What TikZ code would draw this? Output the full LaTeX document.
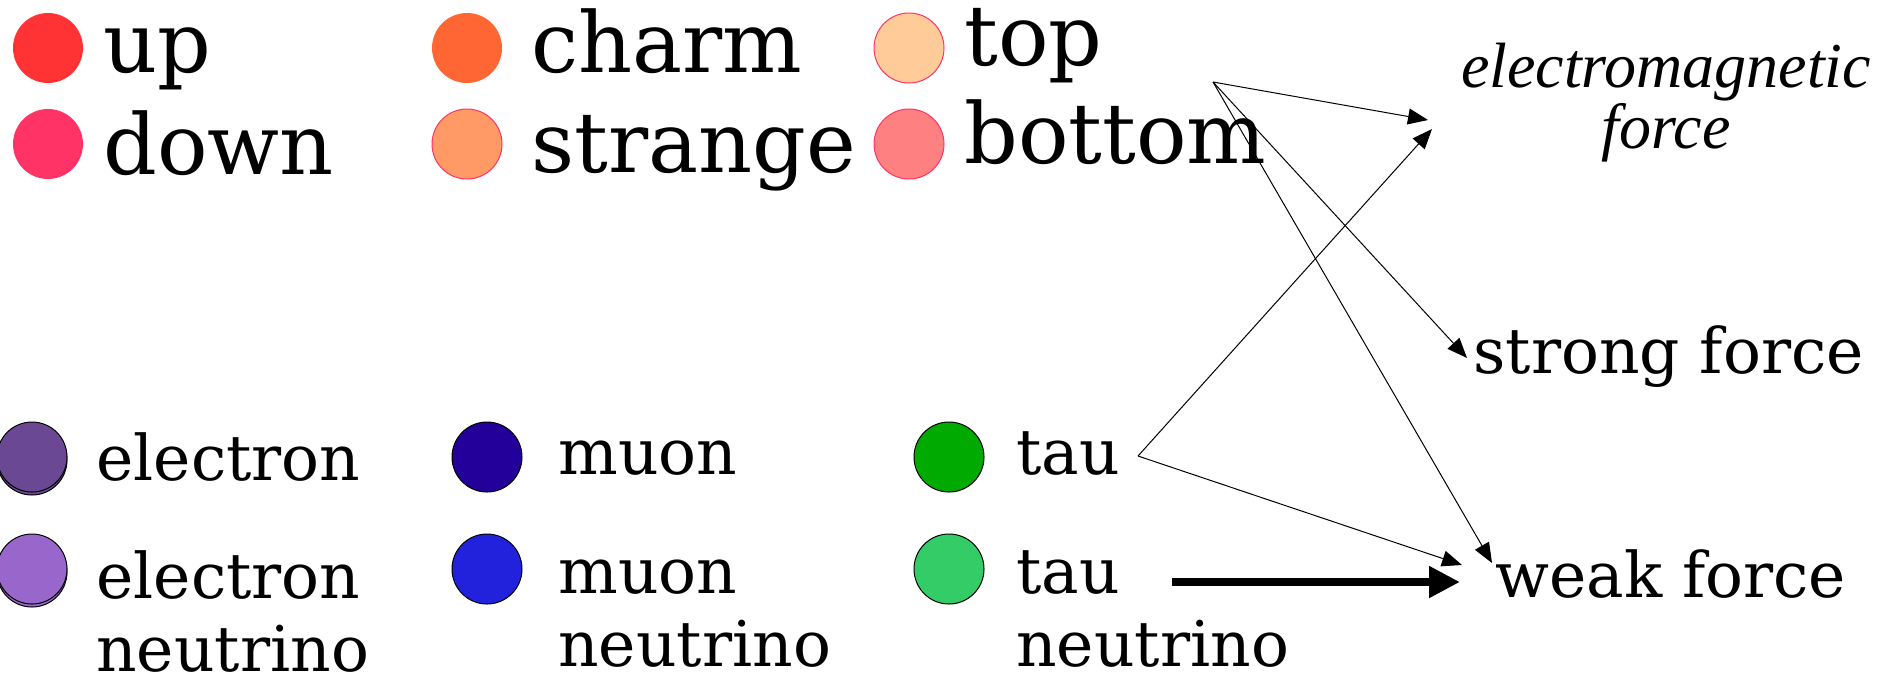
\documentclass[tikz,border=0pt]{standalone}
\usepackage{fontspec}
\setmainfont{DejaVu Serif}
\newfontfamily\forcefont{Liberation Serif}
\usepackage{xcolor}
\usepackage{tikz}
\usetikzlibrary{positioning, calc, arrows.meta}

\definecolor{upcol}{HTML}{FF3333}
\definecolor{downcol}{HTML}{FF3366}
\definecolor{charmcol}{HTML}{FF6633}
\definecolor{strangecol}{HTML}{FF9966}
\definecolor{topcol}{HTML}{FFCC99}
\definecolor{bottomcol}{HTML}{FF8080}
\definecolor{rimcol}{HTML}{FF3366}
\definecolor{eleccol}{HTML}{6B4893}
\definecolor{eneucol}{HTML}{9966CC}
\definecolor{muoncol}{HTML}{220099}
\definecolor{mneucol}{HTML}{2222DD}
\definecolor{taucol}{HTML}{00AA00}
\definecolor{tneucol}{HTML}{33CC66}

\begin{document}
\begin{tikzpicture}[x=0.5pt, y=-0.5pt,
    ball/.style={circle, minimum size=35pt, inner sep=0pt, line width=0.5pt},
    bigtext/.style={anchor=base west, inner sep=0pt, font=\fontsize{42}{50}\selectfont},
    smalltext/.style={anchor=base west, inner sep=0pt, align=left, font=\fontsize{31.5}{36.5}\selectfont},
    link/.style={-{Triangle[length=10pt, width=8pt]}, line width=0.5pt}]
      \useasboundingbox (0,0) rectangle (1899,676);

      % Quarks
      \node[ball, fill=upcol] (up) at (48,48) {};
      \node[ball, fill=downcol] (down) at (48,144) {};
      \node[ball, fill=charmcol] (charm) at (467,48) {};
      \node[ball, draw=rimcol, fill=strangecol] (strange) at (467,144) {};
      \node[ball, draw=rimcol, fill=topcol] (top) at (909,48) {};
      \node[ball, draw=rimcol, fill=bottomcol] (bottom) at (909,144) {};

      \node[bigtext] (uptxt) at (103,72) {up};
      \node[bigtext] (downtxt) at (103,174) {down};
      \node[bigtext] (charmtxt) at (531,72) {charm};
      \node[bigtext] (strangetxt) at (531,172) {strange};
      \node[bigtext] (toptxt) at (964,65) {top};
      \node[bigtext] (bottomtxt) at (964,163) {bottom};

      % Leptons
      \node[ball, draw, fill=eleccol] (elecrim) at (32,460) {};
      \node[ball, draw, fill=eleccol] (elec) at (32,457) {};
      \node[ball, draw, fill=eneucol] (eneurim) at (32,572) {};
      \node[ball, draw, fill=eneucol] (eneu) at (32,569) {};
      \node[ball, draw, fill=muoncol] (muon) at (487,457) {};
      \node[ball, draw, fill=mneucol] (mneu) at (487,569) {};
      \node[ball, draw, fill=taucol] (tau) at (949,457) {};
      \node[ball, draw, fill=tneucol] (tneu) at (949,569) {};

      % base of a two-line node is its last line
      \node[smalltext] (electxt) at (96,480) {electron};
      \node[smalltext] (eneutxt) at (96,671) {electron\\neutrino};
      \node[smalltext] (muontxt) at (558,474) {muon};
      \node[smalltext] (mneutxt) at (558,666) {muon\\neutrino};
      \node[smalltext] (tautxt) at (1016,474) {tau};
      \node[smalltext] (tneutxt) at (1016,666) {tau\\neutrino};

      % Forces
      \node[anchor=base, inner sep=0pt, align=center,
            font=\forcefont\fontsize{32}{30.5}\selectfont\itshape] (emforce) at (1666,148) {electromagnetic\\force};
      \node[smalltext] (strongforce) at (1473,373) {strong force};
      \node[smalltext] (weakforce) at (1495,597) {weak force};

      \coordinate (quarksrc) at (1213,82);
      \coordinate (tausrc) at (1138,456);
      \coordinate (tneusrc) at (1172,582);
      \coordinate (emin1) at (1428,120);
      \coordinate (emin2) at (1432,129);
      \coordinate (strongin) at (1467,358);
      \coordinate (weakin1) at (1492,563);
      \coordinate (weakin2) at (1462,565);
      \coordinate (weakin3) at (1460,582);

      \draw[link] (quarksrc) -- (emin1);
      \draw[link] (quarksrc) -- (strongin);
      \draw[link] (quarksrc) -- (weakin1);
      \draw[link] (tausrc) -- (emin2);
      \draw[link] (tausrc) -- (weakin2);
      \draw[-{Triangle[length=15.5pt, width=15pt]}, line width=4pt] (tneusrc) -- (weakin3);
\end{tikzpicture}
\end{document}
